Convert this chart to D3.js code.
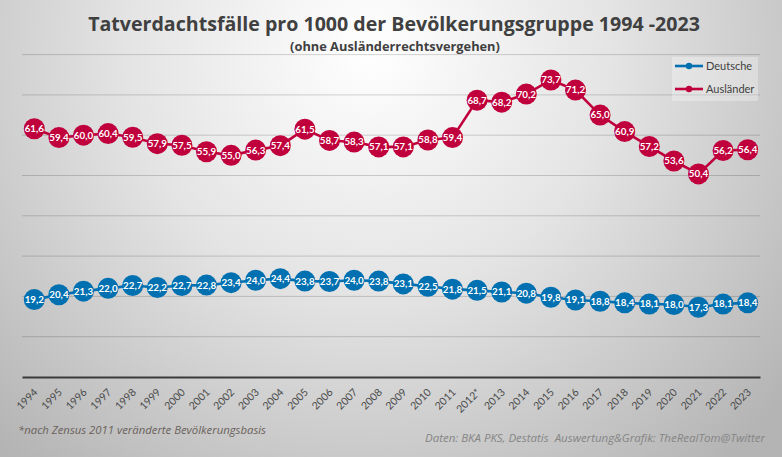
<!DOCTYPE html>
<html><head><meta charset="utf-8">
<script src="https://cdn.jsdelivr.net/npm/d3@7"></script>
<style>html,body{margin:0;padding:0;overflow:hidden}svg{display:block}</style>
</head><body>
<script>
const years = ["1994","1995","1996","1997","1998","1999","2000","2001","2002","2003","2004","2005","2006","2007","2008","2009","2010","2011","2012*","2013","2014","2015","2016","2017","2018","2019","2020","2021","2022","2023"];
const deutsche = [19.2,20.4,21.3,22.0,22.7,22.2,22.7,22.8,23.4,24.0,24.4,23.8,23.7,24.0,23.8,23.1,22.5,21.8,21.5,21.1,20.8,19.8,19.1,18.8,18.4,18.1,18.0,17.3,18.1,18.4];
const auslaender = [61.6,59.4,60.0,60.4,59.5,57.9,57.5,55.9,55.0,56.3,57.4,61.5,58.7,58.3,57.1,57.1,58.8,59.4,68.7,68.2,70.2,73.7,71.2,65.0,60.9,57.2,53.6,50.4,56.2,56.4];
const seriesNames = ["Deutsche","Ausländer"];
const yTicks = [0,10,20,30,40,50,60,70,80];
const title = "Tatverdachtsfälle pro 1000 der Bevölkerungsgruppe 1994 -2023";
const subtitle = "(ohne Ausländerrechtsvergehen)";
const noteLeft = "*nach Zensus 2011 veränderte Bevölkerungsbasis";
const noteRight = "Daten: BKA PKS, Destatis  Auswertung&Grafik: TheRealTom@Twitter";

const W = 782, H = 457;
const colors = ["#0070B0", "#C0003C"];
const svg = d3.select("body").append("svg").attr("width", W).attr("height", H);
const defs = svg.append("defs");
const rg = defs.append("radialGradient").attr("id","bg").attr("gradientUnits","userSpaceOnUse")
  .attr("cx", 370).attr("cy", 50).attr("r", 540);
rg.append("stop").attr("offset","0").attr("stop-color","#ffffff");
rg.append("stop").attr("offset","0.45").attr("stop-color","#e4e4e4");
rg.append("stop").attr("offset","1").attr("stop-color","#b4b4b4");
svg.append("rect").attr("width",W).attr("height",H).attr("fill","url(#bg)");

const x = d3.scaleBand().domain(years).range([22, 760]);
const y = d3.scaleLinear().domain([0, 80]).range([377, 54.6]);
const cx = d => x(d) + x.bandwidth()/2;

// gridlines
svg.append("g").selectAll("line").data(yTicks.filter(t => t > 0)).join("line")
  .attr("x1", 22).attr("x2", 760).attr("y1", d => y(d)).attr("y2", d => y(d))
  .attr("stroke", "rgba(0,0,0,0.17)").attr("stroke-width", 1);

// x axis
const xAxis = svg.append("g").attr("transform", `translate(0,${y(0)})`)
  .call(d3.axisBottom(x).tickSize(0).tickPadding(0));
xAxis.select(".domain").attr("stroke", "#3a3a3a").attr("stroke-width", 2.2);
xAxis.selectAll("text")
  .attr("font-family", "Lato, 'Open Sans', sans-serif").attr("font-size", 10.5).attr("fill", "#4a4a4a")
  .attr("text-anchor", "end").attr("dy", 0)
  .attr("transform", "translate(4,16) rotate(-45)");

// series
const data = [deutsche, auslaender];
const line = d3.line().x((d, i) => cx(years[i])).y(d => y(d));
data.forEach((vals, si) => {
  const g = svg.append("g");
  g.append("path").datum(vals).attr("d", line).attr("fill", "none")
    .attr("stroke", colors[si]).attr("stroke-width", 2.6);
  g.selectAll("circle").data(vals).join("circle")
    .attr("cx", (d, i) => cx(years[i])).attr("cy", d => y(d)).attr("r", 10.5)
    .attr("fill", colors[si]);
  g.selectAll("text").data(vals).join("text")
    .attr("x", (d, i) => cx(years[i])).attr("y", d => y(d)).attr("dy", "0.35em")
    .attr("text-anchor", "middle").attr("fill", "#fff")
    .attr("font-family", "Lato, 'Open Sans', sans-serif").attr("font-weight", 700).attr("font-size", 9.8)
    .text(d => d.toFixed(1).replace(".", ","));
});

// legend
const lg = svg.append("g");
lg.append("rect").attr("x", 672).attr("y", 57).attr("width", 86).attr("height", 44)
  .attr("fill", "rgba(255,255,255,0.3)");
seriesNames.forEach((n, i) => {
  const ly = 66 + i * 23;
  lg.append("line").attr("x1", 675).attr("x2", 703).attr("y1", ly).attr("y2", ly)
    .attr("stroke", colors[i]).attr("stroke-width", 2.6);
  lg.append("circle").attr("cx", 689).attr("cy", ly).attr("r", 3.2).attr("fill", colors[i]);
  lg.append("text").attr("x", 706).attr("y", ly).attr("dy", "0.35em")
    .attr("font-family", "Lato, 'Open Sans', sans-serif").attr("font-size", 11).attr("fill", "#404040")
    .text(n);
});

// titles
function fit(sel, w) {
  const l = sel.node().getComputedTextLength();
  const fs = parseFloat(sel.attr("font-size"));
  sel.attr("font-size", fs * w / l);
}
const t1 = svg.append("text").attr("x", 394).attr("y", 31).attr("text-anchor", "middle")
  .attr("font-family", "'Open Sans', Lato, sans-serif").attr("font-weight", 700).attr("font-size", 22)
  .attr("fill", "#404040").text(title);
fit(t1, 612);
const t2 = svg.append("text").attr("x", 395).attr("y", 51).attr("text-anchor", "middle")
  .attr("font-family", "'Open Sans', Lato, sans-serif").attr("font-weight", 700).attr("font-size", 13)
  .attr("fill", "#404040").text(subtitle);
fit(t2, 210);

// notes
svg.append("text").attr("x", 18).attr("y", 434)
  .attr("font-family", "'Open Sans', Lato, sans-serif").attr("font-style", "italic").attr("font-size", 10.5)
  .attr("fill", "#6a625c").attr("textLength", 248).attr("lengthAdjust", "spacingAndGlyphs").text(noteLeft);
svg.append("text").attr("x", 765).attr("y", 442).attr("text-anchor", "end")
  .style("white-space", "pre")
  .attr("font-family", "'Open Sans', Lato, sans-serif").attr("font-style", "italic").attr("font-size", 10.5)
  .attr("fill", "#858585").attr("textLength", 340).attr("lengthAdjust", "spacingAndGlyphs").text(noteRight);
</script>
</body></html>
